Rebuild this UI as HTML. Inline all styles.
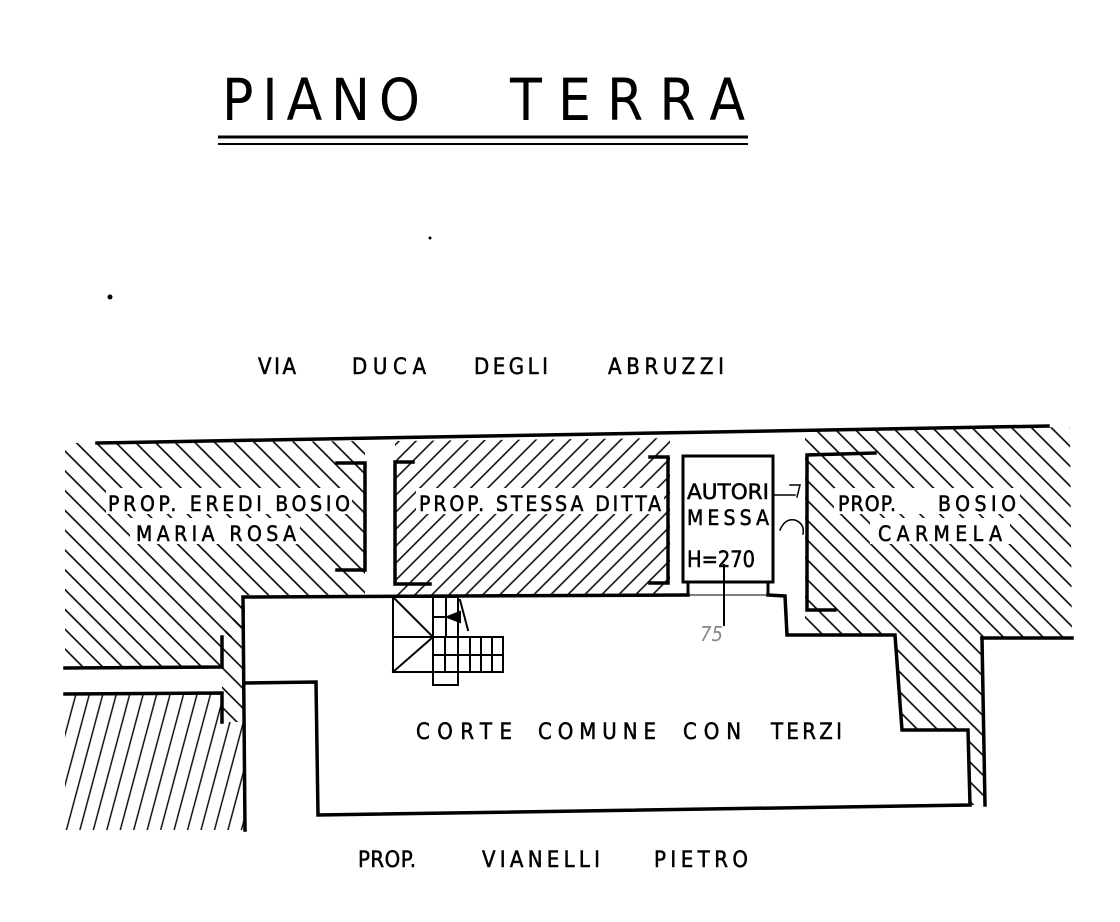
<!DOCTYPE html>
<html><head><meta charset="utf-8"><style>
html,body{margin:0;padding:0;background:#fff;}
svg{display:block;}
text{font-family:"DejaVu Sans Condensed","Liberation Sans Narrow","DejaVu Sans",sans-serif;fill:#000;}
.l{stroke:#000;stroke-width:0.5;}
</style></head><body>
<svg width="1120" height="922" viewBox="0 0 1120 922" xmlns="http://www.w3.org/2000/svg">
<defs>
<pattern id="bs" width="14" height="14" patternUnits="userSpaceOnUse" patternTransform="rotate(-45)"><line x1="7" y1="0" x2="7" y2="14" stroke="#000" stroke-width="1.6"/></pattern>
<pattern id="fs" width="12" height="12" patternUnits="userSpaceOnUse" patternTransform="rotate(45)"><line x1="6" y1="0" x2="6" y2="12" stroke="#000" stroke-width="1.5"/></pattern>
<pattern id="st" width="13" height="13" patternUnits="userSpaceOnUse" patternTransform="rotate(15)"><line x1="6" y1="0" x2="6" y2="13" stroke="#000" stroke-width="1.4"/></pattern>
</defs>
<rect width="1120" height="922" fill="#fff"/>
<text x="222" y="120" font-size="58" textLength="198" lengthAdjust="spacing">PIANO</text>
<text x="510" y="120" font-size="58" textLength="235" lengthAdjust="spacing">TERRA</text>
<line x1="218" y1="137" x2="748" y2="137" stroke="#000" stroke-width="3"/>
<line x1="218" y1="144" x2="748" y2="144" stroke="#000" stroke-width="2"/>
<circle cx="110" cy="297" r="2.5" fill="#000"/>
<circle cx="430" cy="238" r="1.5" fill="#000"/>
<g class="l">
<text x="258" y="374" font-size="22" textLength="38" lengthAdjust="spacing">VIA</text>
<text x="352" y="374" font-size="22" textLength="74" lengthAdjust="spacing">DUCA</text>
<text x="474" y="374" font-size="22" textLength="74" lengthAdjust="spacing">DEGLI</text>
<text x="608" y="374" font-size="22" textLength="116" lengthAdjust="spacing">ABRUZZI</text>
</g>

<polygon points="65,443 365,441 365,595 242,595 242,637 222,637 222,668 65,668" fill="url(#bs)"/>
<polygon points="65,693 222,693 222,722 245,722 245,830 65,830" fill="url(#st)"/>
<polygon points="222,637 245,600 245,722 222,722" fill="url(#bs)"/>
<polygon points="395,441 670,438 670,595 395,595" fill="url(#fs)"/>
<polygon points="805,430 1070,427 1072,638 982,638 985,805 970,805 968,730 902,730 895,635 805,635" fill="url(#bs)"/>
<rect x="366" y="445" width="28" height="150" fill="#fff"/>
<rect x="774" y="445" width="30" height="150" fill="#fff"/>
<rect x="676" y="445" width="102" height="150" fill="#fff"/>

<rect x="106" y="488" width="246" height="26" fill="#fff"/>
<rect x="130" y="518" width="170" height="26" fill="#fff"/>
<rect x="416" y="488" width="248" height="26" fill="#fff"/>
<rect x="834" y="488" width="186" height="26" fill="#fff"/>
<rect x="870" y="518" width="140" height="26" fill="#fff"/>

<g stroke="#000" fill="none" stroke-linecap="square">
<line x1="97" y1="443" x2="1048" y2="426" stroke-width="3.5"/>
<polyline points="337,463 365,463 365,570 337,570" stroke-width="3.5"/>
<polyline points="413,462 395,462 395,584 430,584" stroke-width="3.5"/>
<polyline points="650,457 668,457 668,583 650,583" stroke-width="3.5"/>
<rect x="683" y="456" width="90" height="126" stroke-width="3"/>
<polyline points="688,582 688,595" stroke-width="3"/>
<polyline points="768,582 768,595" stroke-width="3"/>
<line x1="688" y1="595" x2="768" y2="595" stroke-width="1"/>
<line x1="724" y1="565" x2="724" y2="625" stroke-width="2"/>
<polyline points="875,453 807,455 807,610 835,610" stroke-width="3.5"/>
<polyline points="245,830 243,597 688,595" stroke-width="3.5"/>
<polyline points="768,595 785,596 787,635 895,635 902,730 968,730 970,805 318,815 316,682 247,683" stroke-width="3.5"/>
<polyline points="982,638 985,805" stroke-width="3.5"/>
<line x1="982" y1="638" x2="1072" y2="638" stroke-width="3.5"/>
<polyline points="65,668 222,667 222,637" stroke-width="3.5"/>
<polyline points="65,694 222,693 222,722" stroke-width="3.5"/>
<g stroke-width="2">
<rect x="393" y="597" width="40" height="75"/>
<line x1="393" y1="597" x2="433" y2="637"/>
<line x1="393" y1="672" x2="433" y2="637"/>
<line x1="393" y1="637" x2="503" y2="637"/>
<rect x="433" y="597" width="25" height="40"/>
<line x1="446" y1="597" x2="446" y2="637"/>
<line x1="433" y1="617" x2="460" y2="617"/>
<rect x="433" y="637" width="70" height="35"/>
<line x1="433" y1="655" x2="503" y2="655"/>
<line x1="445" y1="637" x2="445" y2="672"/>
<line x1="458" y1="637" x2="458" y2="672"/>
<line x1="470" y1="637" x2="470" y2="672"/>
<line x1="481" y1="637" x2="481" y2="672"/>
<line x1="492" y1="637" x2="492" y2="672"/>
<rect x="433" y="672" width="25" height="13"/>
<line x1="460" y1="600" x2="468" y2="630"/>
<path d="M447,617 L460,612 L460,622 Z" fill="#000"/>
</g>
<path d="M775,495 L795,495 M790,485 L800,485 L797,497" stroke-width="1.5"/>
<path d="M780,530 q5,-12 15,-10 q10,4 8,14" stroke-width="1.5"/>
</g>
<text x="700" y="641" font-size="20" font-style="italic" style="fill:#888">75</text>

<g class="l">
<text x="108" y="511" font-size="21" textLength="242" lengthAdjust="spacing">PROP.  EREDI BOSIO</text>
<text x="136" y="541" font-size="21" textLength="160" lengthAdjust="spacing">MARIA ROSA</text>
<text x="419" y="511" font-size="21" textLength="242" lengthAdjust="spacing">PROP. STESSA DITTA</text>
<text x="687" y="499" font-size="21" textLength="82" lengthAdjust="spacingAndGlyphs">AUTORI</text>
<text x="687" y="525" font-size="21" textLength="82" lengthAdjust="spacing">MESSA</text>
<text x="687" y="567" font-size="22" textLength="68" lengthAdjust="spacingAndGlyphs">H=270</text>
<text x="838" y="511" font-size="21" textLength="58" lengthAdjust="spacing">PROP.</text>
<text x="938" y="511" font-size="21" textLength="78" lengthAdjust="spacing">BOSIO</text>
<text x="878" y="541" font-size="21" textLength="124" lengthAdjust="spacing">CARMELA</text>
<text x="416" y="739" font-size="22" textLength="96" lengthAdjust="spacing">CORTE</text>
<text x="538" y="739" font-size="22" textLength="118" lengthAdjust="spacing">COMUNE</text>
<text x="683" y="739" font-size="22" textLength="58" lengthAdjust="spacing">CON</text>
<text x="771" y="739" font-size="22" textLength="71" lengthAdjust="spacing">TERZI</text>
<text x="358" y="867" font-size="22" textLength="58" lengthAdjust="spacing">PROP.</text>
<text x="482" y="867" font-size="22" textLength="118" lengthAdjust="spacing">VIANELLI</text>
<text x="654" y="867" font-size="22" textLength="94" lengthAdjust="spacing">PIETRO</text>
</g>
</svg>
</body></html>
